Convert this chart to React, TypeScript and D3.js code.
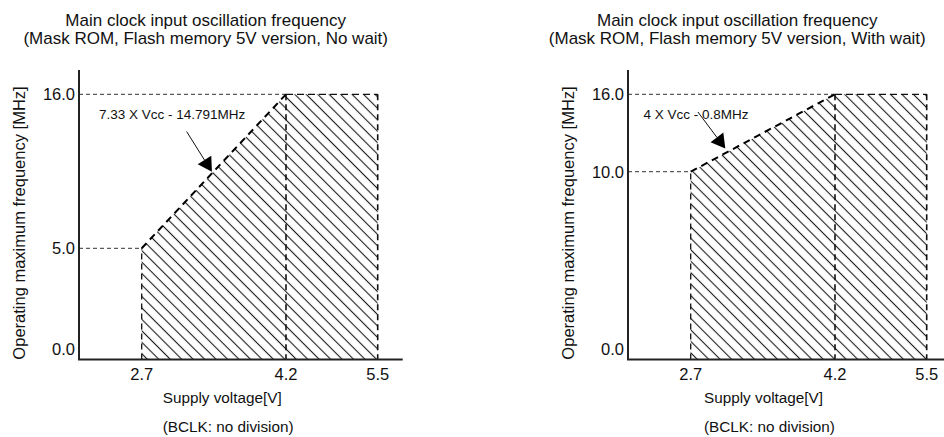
import React from "react";
import * as d3 from "d3";

// ---- data ----
const TITLE = "Main clock input oscillation frequency";
const SUBTITLES = [
  "(Mask ROM, Flash memory 5V version, No wait)",
  "(Mask ROM, Flash memory 5V version, With wait)",
];
const Y_LABEL = "Operating maximum frequency [MHz]";
const X_LABEL = "Supply voltage[V]";
const NOTE = "(BCLK: no division)";

const voltages = [2.7, 4.2, 5.5];
const voltageLabels = ["2.7", "4.2", "5.5"];
const maxFreqNoWait = [5.0, 16.0, 16.0];
const maxFreqWithWait = [10.0, 16.0, 16.0];
const yTicksNoWait = [0, 5, 16];
const yTicksWithWait = [0, 10, 16];
const yTickLabelsNoWait = ["0.0", "5.0", "16.0"];
const yTickLabelsWithWait = ["0.0", "10.0", "16.0"];
const formulas = ["7.33 X Vcc - 14.791MHz", "4 X Vcc - 0.8MHz"];
const arrowVoltages = [3.43, 3.06];

// ---- layout ----
const FONT = "'Liberation Sans', Arial, Helvetica, sans-serif";
const AXIS_TOP = 70;
const AXIS_Y = 359.5;
const Y16 = 94.3;
const AXIS_LEN = 323.7;
const X_OFFS = [62.7, 207, 298.7];
const HATCH = 8.1;
const layouts = [
  { ox: 79, titleX: 205.7, xLabelX: 162.7, yMidPx: 248.3, noteX: 172.2, arrowDx: -25.3, arrowDy: -40.3, tipLift: 1.5 },
  { ox: 628, titleX: 737.3, xLabelX: 704, yMidPx: 171.7, noteX: 696, arrowDx: -27.4, arrowDy: -36.6, tipLift: 4.5 },
];

function Chart({ idx }: { idx: number }) {
  const L = layouts[idx];
  const freqs = idx === 0 ? maxFreqNoWait : maxFreqWithWait;
  const yTicks = idx === 0 ? yTicksNoWait : yTicksWithWait;
  const yTickLabels = idx === 0 ? yTickLabelsNoWait : yTickLabelsWithWait;

  const x = d3.scaleLinear().domain(voltages).range(X_OFFS.map((d) => L.ox + d));
  const y = d3.scaleLinear().domain([0, freqs[0], 16]).range([AXIS_Y, L.yMidPx, Y16]);
  const boundary = d3.scaleLinear().domain(voltages).range(freqs);

  const pts: [number, number][] = [
    [voltages[0], 0],
    ...voltages.map((v, i) => [v, freqs[i]] as [number, number]),
    [voltages[2], 0],
  ];
  const line = d3
    .line<[number, number]>()
    .x((d) => x(d[0]))
    .y((d) => y(d[1]));
  const areaPath = line(pts) + "Z";

  const seg = (a: [number, number], b: [number, number]) => line([a, b]) as string;

  // arrow
  const av = arrowVoltages[idx];
  const tipX = x(av);
  const tipY = y(boundary(av)) - L.tipLift;
  const sx = tipX + L.arrowDx;
  const sy = tipY + L.arrowDy;
  const len = Math.hypot(L.arrowDx, L.arrowDy);
  const ux = -L.arrowDx / len;
  const uy = -L.arrowDy / len;
  const headLen = 14;
  const headHalf = 8;
  const bx = tipX - ux * headLen;
  const by = tipY - uy * headLen;
  const head = [
    [tipX, tipY],
    [bx - uy * headHalf, by + ux * headHalf],
    [bx + uy * headHalf, by - ux * headHalf],
  ]
    .map((p) => p.join(","))
    .join(" ");

  const pid = `hatch${idx}`;
  return (
    <g fontFamily={FONT} fill="#111">
      <defs>
        <pattern id={pid} patternUnits="userSpaceOnUse" width={HATCH} height={HATCH} patternTransform="rotate(-45)">
          <line x1={HATCH / 2} y1={0} x2={HATCH / 2} y2={HATCH} stroke="#1a1a1a" strokeWidth={1.1} />
        </pattern>
      </defs>
      {/* titles */}
      <text x={L.titleX} y={26} textAnchor="middle" fontSize={17}>
        {TITLE}
      </text>
      <text x={L.titleX} y={43.5} textAnchor="middle" fontSize={17}>
        {SUBTITLES[idx]}
      </text>

      {/* hatched region */}
      <path d={areaPath} fill={`url(#${pid})`} stroke="none" />

      {/* reference dashed lines */}
      <path d={`M${L.ox},${y(freqs[0])}H${x(voltages[0])}`} stroke="#333" strokeWidth={1} strokeDasharray="4 3" fill="none" />
      <path d={`M${L.ox},${y(16)}H${x(voltages[1])}`} stroke="#333" strokeWidth={1} strokeDasharray="4 3" fill="none" />

      {/* boundary edges */}
      <path d={seg([voltages[0], 0], [voltages[0], freqs[0]])} stroke="#111" strokeWidth={1.3} strokeDasharray="6 4" fill="none" />
      <path d={seg([voltages[0], freqs[0]], [voltages[1], freqs[1]])} stroke="#000" strokeWidth={2} strokeDasharray="7 5" fill="none" />
      <path d={seg([voltages[1], freqs[1]], [voltages[2], freqs[2]])} stroke="#111" strokeWidth={1.3} strokeDasharray="7 4" fill="none" />
      <path d={seg([voltages[2], freqs[2]], [voltages[2], 0])} stroke="#111" strokeWidth={1.6} strokeDasharray="6 4" fill="none" />
      <path d={seg([voltages[1], freqs[1]], [voltages[1], 0])} stroke="#111" strokeWidth={1.6} strokeDasharray="6 4" fill="none" />

      {/* axes */}
      <path d={`M${L.ox},${AXIS_TOP}V${AXIS_Y}H${L.ox + AXIS_LEN}`} stroke="#222" strokeWidth={2} fill="none" />

      {/* y tick labels */}
      {yTicks.map((v, i) => (
        <text key={i} x={L.ox - 4} y={(v === 0 ? y(0) - 10.5 : y(v)) + 6} textAnchor="end" fontSize={16.5}>
          {yTickLabels[i]}
        </text>
      ))}
      {/* x tick labels */}
      {voltages.map((v, i) => (
        <text key={i} x={x(v)} y={379.5} textAnchor="middle" fontSize={16.5}>
          {voltageLabels[i]}
        </text>
      ))}

      {/* axis titles */}
      <text x={L.xLabelX} y={402.5} fontSize={15.3}>
        {X_LABEL}
      </text>
      <text x={L.xLabelX} y={432} fontSize={15.3}>
        {NOTE}
      </text>
      <text
        transform={`translate(${L.ox - 60.5},223) rotate(-90)`}
        textAnchor="middle"
        dominantBaseline="central"
        fontSize={16.5}
      >
        {Y_LABEL}
      </text>

      {/* annotation */}
      <text x={L.noteX} y={118.5} textAnchor="middle" fontSize={13.5}>
        {formulas[idx]}
      </text>
      <line x1={sx} y1={sy} x2={bx} y2={by} stroke="#111" strokeWidth={1} />
      <polygon points={head} fill="#000" />
    </g>
  );
}

export default function App() {
  return (
    <svg
      width={944}
      height={437}
      viewBox="0 0 944 437"
      style={{ position: "absolute", left: 0, top: 0, background: "#fff" }}
    >
      <rect width={944} height={437} fill="#fff" />
      <Chart idx={0} />
      <Chart idx={1} />
    </svg>
  );
}
